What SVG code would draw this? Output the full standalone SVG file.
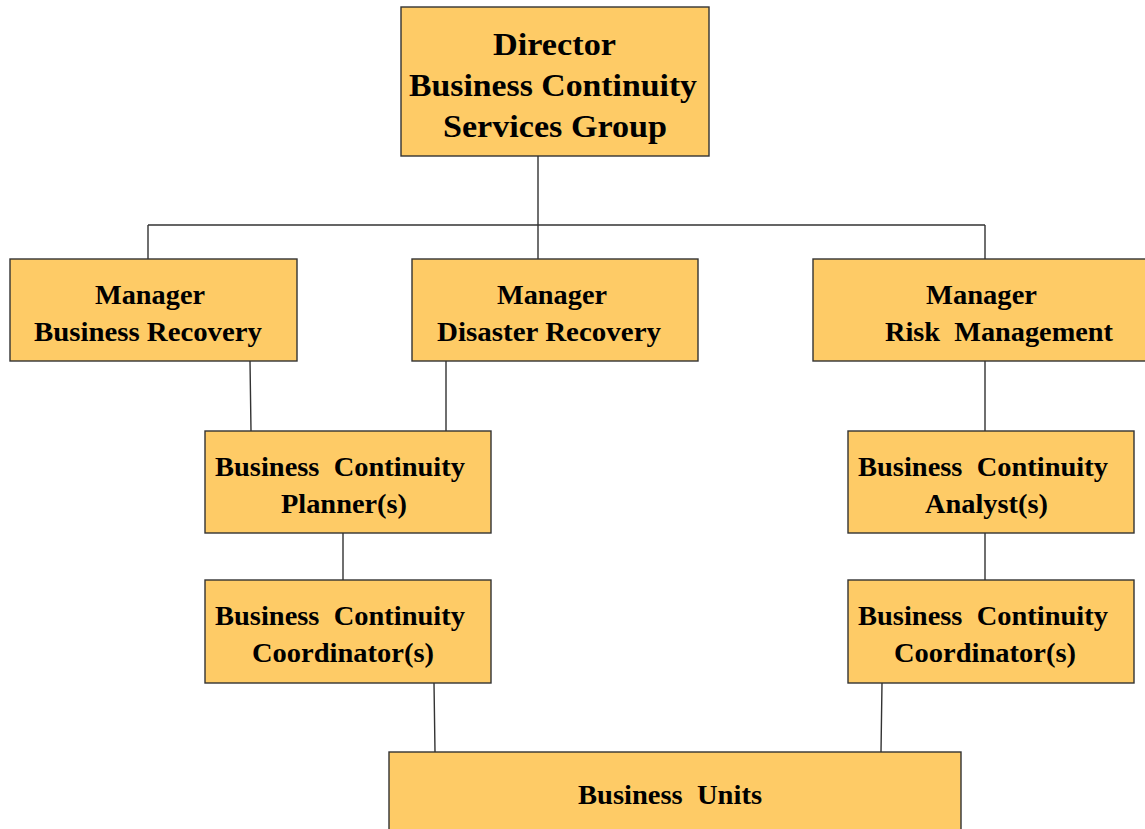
<svg xmlns="http://www.w3.org/2000/svg" width="1145" height="829" viewBox="0 0 1145 829">
<style>
.box{fill:#FECB66;stroke:#333;stroke-width:1.4}
.t{font-family:"Liberation Serif","Times New Roman",serif;font-weight:bold;fill:#000;font-size:26.5px}
.big{font-size:32.5px}
.ln{stroke:#333;stroke-width:1.4;fill:none}
</style>
<rect width="1145" height="829" fill="#fff"/>
<g id="connectors">
<path class="ln" d="M538,156V225M148,225H985M148,225V259M538,225V259M985,225V259"/>
<path class="ln" d="M250,361L251,431M446,361V431M985,361V431M343,533V580M985,533V580M434,683L435,752M882,683L881,752"/>
</g>
<g id="director">
<rect class="box" x="401" y="7" width="308" height="149"/>
<text class="t big" x="493" y="55" textLength="123" lengthAdjust="spacingAndGlyphs">Director</text>
<text class="t big" x="409" y="96" textLength="288" lengthAdjust="spacingAndGlyphs">Business Continuity</text>
<text class="t big" x="443" y="137" textLength="224" lengthAdjust="spacingAndGlyphs">Services Group</text>
</g>
<g id="mgr-br">
<rect class="box" x="10" y="259" width="287" height="102"/>
<text class="t" x="95" y="304" textLength="110" lengthAdjust="spacingAndGlyphs">Manager</text>
<text class="t" x="34" y="341" textLength="228" lengthAdjust="spacingAndGlyphs">Business Recovery</text>
</g>
<g id="mgr-dr">
<rect class="box" x="412" y="259" width="286" height="102"/>
<text class="t" x="497" y="304" textLength="110" lengthAdjust="spacingAndGlyphs">Manager</text>
<text class="t" x="437" y="341" textLength="224" lengthAdjust="spacingAndGlyphs">Disaster Recovery</text>
</g>
<g id="mgr-rm">
<rect class="box" x="813" y="259" width="334" height="102"/>
<text class="t" x="926" y="304" textLength="111" lengthAdjust="spacingAndGlyphs">Manager</text>
<text class="t" x="885" y="341" textLength="228" lengthAdjust="spacingAndGlyphs" xml:space="preserve">Risk  Management</text>
</g>
<g id="planner">
<rect class="box" x="205" y="431" width="286" height="102"/>
<text class="t" x="215" y="476" textLength="250" lengthAdjust="spacingAndGlyphs" xml:space="preserve">Business  Continuity</text>
<text class="t" x="281" y="513" textLength="126" lengthAdjust="spacingAndGlyphs">Planner(s)</text>
</g>
<g id="analyst">
<rect class="box" x="848" y="431" width="286" height="102"/>
<text class="t" x="858" y="476" textLength="250" lengthAdjust="spacingAndGlyphs" xml:space="preserve">Business  Continuity</text>
<text class="t" x="925" y="513" textLength="123" lengthAdjust="spacingAndGlyphs">Analyst(s)</text>
</g>
<g id="coord-left">
<rect class="box" x="205" y="580" width="286" height="103"/>
<text class="t" x="215" y="625" textLength="250" lengthAdjust="spacingAndGlyphs" xml:space="preserve">Business  Continuity</text>
<text class="t" x="252" y="662" textLength="182" lengthAdjust="spacingAndGlyphs">Coordinator(s)</text>
</g>
<g id="coord-right">
<rect class="box" x="848" y="580" width="286" height="103"/>
<text class="t" x="858" y="625" textLength="250" lengthAdjust="spacingAndGlyphs" xml:space="preserve">Business  Continuity</text>
<text class="t" x="894" y="662" textLength="182" lengthAdjust="spacingAndGlyphs">Coordinator(s)</text>
</g>
<g id="business-units">
<rect class="box" x="389" y="752" width="572" height="90"/>
<text class="t" x="578" y="804" textLength="184" lengthAdjust="spacingAndGlyphs" xml:space="preserve">Business  Units</text>
</g>
</svg>
